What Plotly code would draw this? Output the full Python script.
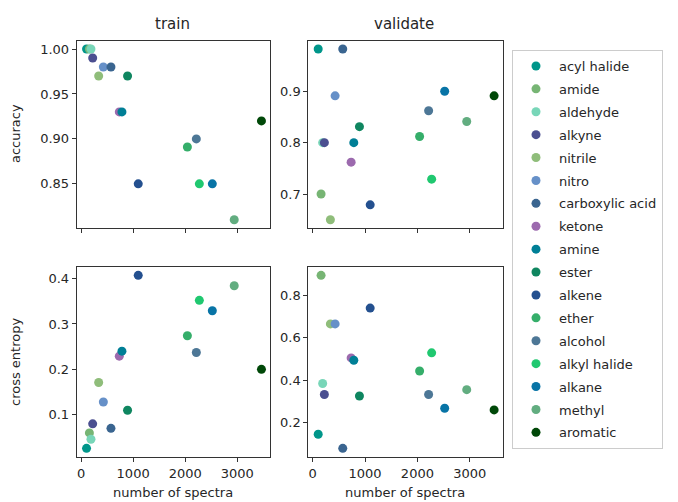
import plotly.graph_objects as go

OFF = 8  # page body margin in the browser
W, H = 678 - OFF, 502 - OFF

groups = ["acyl halide", "amide", "aldehyde", "alkyne", "nitrile", "nitro",
          "carboxylic acid", "ketone", "amine", "ester", "alkene", "ether",
          "alcohol", "alkyl halide", "alkane", "methyl", "aromatic"]
colors = ["#00968a", "#77b574", "#78d6b8", "#4b4f90", "#8fbd7a", "#6690c8",
          "#3a6590", "#9c6aae", "#007f96", "#0f8660", "#24508f", "#35ae6a",
          "#4d7796", "#20c870", "#0874a6", "#62ad80", "#004808"]
n_spectra = [105, 160, 190, 223, 338, 428, 574, 734, 785, 893, 1098, 2042,
             2214, 2272, 2521, 2942, 3465]
train_acc = [1.00, 1.00, 1.00, 0.99, 0.97, 0.98, 0.98, 0.93, 0.93, 0.97,
             0.85, 0.891, 0.90, 0.85, 0.85, 0.81, 0.92]
val_acc = [0.982, 0.70, 0.80, 0.80, 0.65, 0.891, 0.982, 0.762, 0.80, 0.831,
           0.679, 0.812, 0.862, 0.729, 0.90, 0.841, 0.891]
train_ce = [0.026, 0.060, 0.046, 0.080, 0.171, 0.128, 0.070, 0.229, 0.240,
            0.110, 0.407, 0.274, 0.237, 0.352, 0.329, 0.384, 0.200]
val_ce = [0.144, 0.896, 0.384, 0.332, 0.666, 0.666, 0.077, 0.505, 0.494,
          0.325, 0.741, 0.443, 0.332, 0.529, 0.267, 0.355, 0.259]

x_ticks = [0, 1000, 2000, 3000]

def px(x):
    return (x - OFF) / W

def py(y):
    return 1 - (y - OFF) / H

fig = go.Figure()

panels = [("x", "y", train_acc), ("x2", "y2", val_acc),
          ("x3", "y3", train_ce), ("x4", "y4", val_ce)]

for i, g in enumerate(groups):
    for k, (xa, ya, vals) in enumerate(panels):
        fig.add_trace(go.Scatter(
            x=[n_spectra[i]], y=[vals[i]], mode="markers", name=g,
            xaxis=xa, yaxis=ya, legendgroup=g, showlegend=(k == 0),
            marker=dict(size=9, color=colors[i], line=dict(width=0)),
        ))

font = dict(family="DejaVu Sans", size=13, color="#262626")
axis_common = dict(showline=True, mirror=True, linecolor="#333333", linewidth=1,
                   ticks="outside", ticklen=4, tickcolor="#333333",
                   showgrid=False, zeroline=False, tickfont=font)

xr = [-84, 3629]
xdom_l = [px(76.7), px(270)]
xdom_r = [px(308.3), px(502.7)]
ydom_t = [py(228.3), py(40.5)]
ydom_b = [py(457), py(266.7)]

def yr(vals):
    lo, hi = min(vals), max(vals)
    m = (hi - lo) * 0.05
    return [lo - m, hi + m]

fig.update_layout(
    width=W, height=H, margin=dict(l=0, r=0, t=0, b=0),
    paper_bgcolor="white", plot_bgcolor="white", font=font,
    xaxis=dict(domain=xdom_l, range=xr, anchor="y", tickvals=x_ticks,
               showticklabels=False, **axis_common),
    xaxis2=dict(domain=xdom_r, range=xr, anchor="y2", tickvals=x_ticks,
                showticklabels=False, **axis_common),
    xaxis3=dict(domain=xdom_l, range=xr, anchor="y3", tickvals=x_ticks,
                **axis_common),
    xaxis4=dict(domain=xdom_r, range=xr, anchor="y4", tickvals=x_ticks,
                **axis_common),
    yaxis=dict(domain=ydom_t, range=yr(train_acc), anchor="x",
               tickvals=[0.85, 0.90, 0.95, 1.00], tickformat=".2f", **axis_common),
    yaxis2=dict(domain=ydom_t, range=yr(val_acc), anchor="x2",
                tickvals=[0.7, 0.8, 0.9], tickformat=".1f", **axis_common),
    yaxis3=dict(domain=ydom_b, range=yr(train_ce), anchor="x3",
                tickvals=[0.1, 0.2, 0.3, 0.4], tickformat=".1f", **axis_common),
    yaxis4=dict(domain=ydom_b, range=yr(val_ce), anchor="x4",
                tickvals=[0.2, 0.4, 0.6, 0.8], tickformat=".1f", **axis_common),
    legend=dict(x=px(512), y=py(50), xanchor="left", yanchor="top",
                bordercolor="#cccccc", borderwidth=1, bgcolor="white",
                font=font, tracegroupgap=3, itemwidth=36, traceorder="grouped"),
    showlegend=True,
)

annotations = [
    dict(text="train", x=px(172), y=py(24), font=dict(family="DejaVu Sans", size=15, color="#262626")),
    dict(text="validate", x=px(404), y=py(24), font=dict(family="DejaVu Sans", size=15, color="#262626")),
    dict(text="accuracy", x=px(15), y=py(134), textangle=-90, font=font),
    dict(text="cross entropy", x=px(15), y=py(362), textangle=-90, font=font),
    dict(text="number of spectra", x=px(173), y=py(492), font=font),
    dict(text="number of spectra", x=px(405), y=py(492), font=font),
]
for a in annotations:
    a.update(xref="paper", yref="paper", showarrow=False, xanchor="center", yanchor="middle")
fig.update_layout(annotations=annotations)

fig.write_html("out.html")
